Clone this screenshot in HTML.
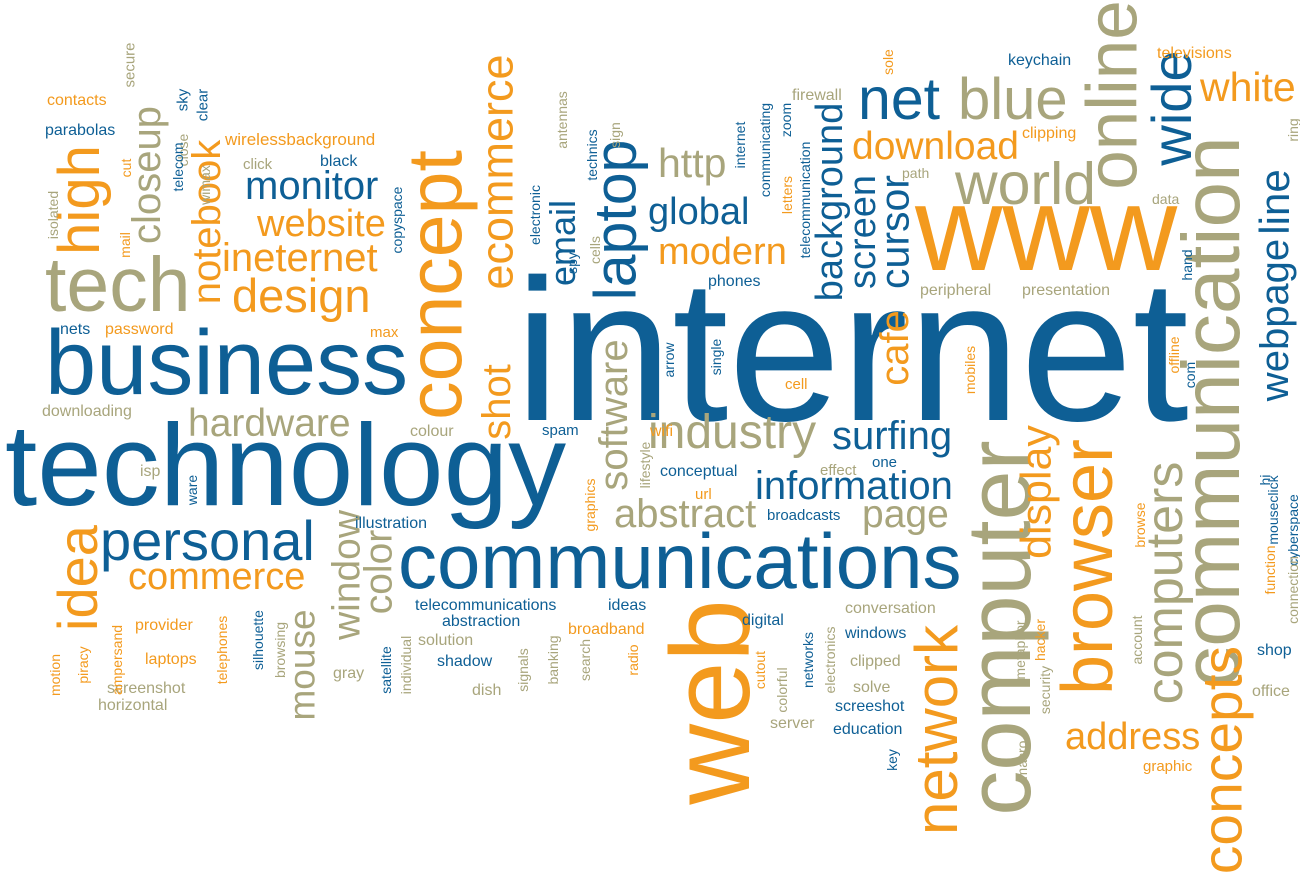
<!DOCTYPE html>
<html>
<head>
<meta charset="utf-8">
<style>
  html,body{margin:0;padding:0;background:#fff;}
  #cloud{position:relative;width:1300px;height:880px;overflow:hidden;background:#fff;}
  .w{position:absolute;white-space:nowrap;line-height:1;font-family:"Liberation Sans",Arial,sans-serif;}
</style>
</head>
<body>
<div id="cloud"></div>
<script>
// [text, x, y, fontSize, vertical(0/1), colorKey]
// horizontal: x = left, y = baseline ; vertical: x,y = center
const BLUE = "#0e5f95", ORANGE = "#f39a1e", KHAKI = "#a8a57c";
const bigWords = [
  ["internet",515,420,202,0,"b"],
  ["technology",5,505,116,0,"b"],
  ["business",45,395,92,0,"b"],
  ["communications",398,588,78,0,"b"],
  ["personal",100,560,56,0,"b"],
  ["tech",45,312,77,0,"k"],
  ["design",232,312,47,0,"o"],
  ["hardware",188,437,39,0,"k"],
  ["commerce",128,590,38,0,"o"],
  ["monitor",245,200,40,0,"b"],
  ["website",257,237,38,0,"o"],
  ["ineternet",222,272,40,0,"o"],
  ["www",915,270,121,0,"o"],
  ["world",955,205,59,0,"k"],
  ["blue",958,120,58,0,"k"],
  ["net",858,120,59,0,"b"],
  ["white",1200,102,41,0,"o"],
  ["download",852,160,39,0,"o"],
  ["global",648,225,38,0,"b"],
  ["http",658,178,41,0,"k"],
  ["modern",658,265,38,0,"o"],
  ["industry",648,450,48,0,"k"],
  ["surfing",832,450,40,0,"b"],
  ["information",755,500,40,0,"b"],
  ["page",862,528,39,0,"k"],
  ["abstract",614,528,40,0,"k"],
  ["address",1065,750,38,0,"o"]
];
const bigVertical = [
  ["web",711,702,112,1,"o"],
  ["computer",1000,628,90,1,"k"],
  ["communication",1212,412,82,1,"k"],
  ["online",1113,95,71,1,"k"],
  ["wide",1172,108,56,1,"b"],
  ["browser",1088,567,72,1,"o"],
  ["computers",1165,583,52,1,"k"],
  ["concepts",1223,760,57,1,"o"],
  ["network",937,730,60,1,"o"],
  ["concept",436,285,77,1,"o"],
  ["ecommerce",497,172,45,1,"o"],
  ["shot",497,402,40,1,"o"],
  ["laptop",616,220,59,1,"b"],
  ["email",563,243,36,1,"b"],
  ["software",614,415,40,1,"k"],
  ["cafe",895,348,40,1,"o"],
  ["background",830,202,38,1,"b"],
  ["screen",863,232,38,1,"b"],
  ["cursor",895,232,41,1,"b"],
  ["display",1037,492,43,1,"o"],
  ["webpage",1275,320,40,1,"b"],
  ["line",1275,202,42,1,"b"],
  ["high",80,200,58,1,"o"],
  ["closeup",147,175,40,1,"k"],
  ["notebook",207,222,40,1,"o"],
  ["idea",78,578,56,1,"o"],
  ["window",347,575,39,1,"k"],
  ["color",379,572,39,1,"k"],
  ["mouse",302,665,37,1,"k"]
];
const smallWords = [
  ["contacts",47,107,16,0,"o"],["parabolas",45,137,16,0,"b"],["wirelessbackground",225,145,17,0,"o"],
  ["black",320,168,16,0,"b"],["click",243,170,15,0,"k"],["nets",60,336,16,0,"b"],
  ["password",105,336,16,0,"o"],["max",370,338,15,0,"o"],["downloading",42,418,16,0,"k"],
  ["colour",410,438,16,0,"k"],["isp",140,478,16,0,"k"],["illustration",355,530,16,0,"b"],
  ["telecommunications",415,612,16,0,"b"],["ideas",608,612,16,0,"b"],["abstraction",442,628,16,0,"b"],
  ["solution",418,647,16,0,"k"],["shadow",437,668,16,0,"b"],["dish",472,697,16,0,"k"],
  ["provider",135,632,16,0,"o"],["laptops",145,666,16,0,"o"],["screenshot",107,695,16,0,"k"],
  ["horizontal",98,712,16,0,"k"],["gray",333,680,16,0,"k"],["spam",542,436,15,0,"b"],
  ["wifi",650,438,16,0,"o"],["url",695,500,15,0,"o"],["broadcasts",767,521,15,0,"b"],
  ["conceptual",660,478,16,0,"b"],["effect",820,476,15,0,"k"],["one",872,468,15,0,"b"],
  ["digital",742,627,16,0,"b"],["broadband",568,636,16,0,"o"],["conversation",845,615,16,0,"k"],
  ["windows",845,640,16,0,"b"],["clipped",850,668,16,0,"k"],["solve",853,694,16,0,"k"],
  ["screeshot",835,713,16,0,"b"],["education",833,736,16,0,"b"],["server",770,730,16,0,"k"],
  ["phones",708,288,16,0,"b"],["peripheral",920,297,16,0,"k"],["presentation",1022,297,16,0,"k"],
  ["keychain",1008,67,16,0,"b"],["televisions",1157,60,16,0,"o"],["firewall",792,102,16,0,"k"],
  ["clipping",1022,140,16,0,"o"],["path",902,178,14,0,"k"],["data",1152,204,14,0,"k"],
  ["cell",785,390,15,0,"o"],["shop",1257,657,16,0,"b"],["office",1252,698,16,0,"k"],
  ["graphic",1143,772,15,0,"o"],
  ["secure",130,65,15,1,"k"],["sky",183,100,15,1,"b"],["clear",203,105,15,1,"b"],
  ["close",183,150,14,1,"k"],["cut",126,168,14,1,"o"],["telecom",178,167,14,1,"b"],
  ["wimax",205,185,14,1,"k"],["isolated",53,215,14,1,"k"],["mail",125,245,14,1,"o"],
  ["copyspace",397,220,14,1,"b"],["antennas",562,120,14,1,"k"],["electronic",535,215,14,1,"b"],
  ["cells",595,250,14,1,"k"],["spy",572,263,14,1,"b"],["sign",615,135,14,1,"k"],
  ["technics",592,155,14,1,"b"],["internet",740,145,14,1,"b"],["communicating",765,150,14,1,"b"],
  ["letters",787,195,14,1,"o"],["zoom",786,120,14,1,"b"],["telecommunication",805,200,14,1,"b"],
  ["arrow",669,360,14,1,"b"],["single",716,357,14,1,"b"],["lifestyle",645,465,14,1,"k"],
  ["graphics",590,505,14,1,"o"],["ware",192,490,14,1,"b"],["ampersand",117,660,14,1,"o"],
  ["motion",55,675,14,1,"o"],["piracy",83,665,14,1,"o"],["silhouette",258,640,14,1,"b"],
  ["telephones",222,650,14,1,"o"],["browsing",280,650,14,1,"k"],["satellite",386,670,14,1,"b"],
  ["individual",406,665,14,1,"k"],["signals",523,670,14,1,"k"],["banking",553,660,14,1,"k"],
  ["search",585,660,14,1,"k"],["radio",633,660,14,1,"o"],["cutout",760,670,14,1,"o"],
  ["colorful",782,690,14,1,"k"],["networks",808,660,14,1,"b"],["electronics",830,660,14,1,"k"],
  ["key",892,760,14,1,"b"],["macro",1022,760,14,1,"k"],["metaphor",1020,650,14,1,"k"],
  ["hacker",1040,640,14,1,"o"],["security",1045,690,14,1,"k"],["account",1137,640,14,1,"k"],
  ["browse",1140,525,14,1,"o"],["mobiles",970,370,14,1,"o"],["offline",1174,355,14,1,"o"],
  ["com",1190,375,14,1,"b"],["hand",1187,265,14,1,"b"],["hi",1265,480,14,1,"b"],
  ["function",1270,570,14,1,"o"],["mouseclick",1273,510,14,1,"b"],["cyberspace",1293,530,14,1,"b"],
  ["connection",1293,590,14,1,"k"],["ring",1293,130,14,1,"k"],["sole",888,62,14,1,"o"]
];
const colorMap = {b:BLUE,o:ORANGE,k:KHAKI};
const cloud = document.getElementById('cloud');
function place(list){
  list.forEach(function(wd){
    const el = document.createElement('div');
    el.className = 'w';
    el.textContent = wd[0];
    el.style.fontSize = wd[3] + 'px';
    el.style.color = colorMap[wd[5]];
    if (wd[4]) {
      el.style.left = wd[1] + 'px';
      el.style.top = wd[2] + 'px';
      el.style.transform = 'translate(-50%,-50%) rotate(-90deg)';
    } else {
      el.style.left = wd[1] + 'px';
      el.style.top = (wd[2] - 0.847 * wd[3]) + 'px';
    }
    
    
    cloud.appendChild(el);
  });
}
place(bigWords);
place(bigVertical);
place(smallWords);
</script>
</body>
</html>
